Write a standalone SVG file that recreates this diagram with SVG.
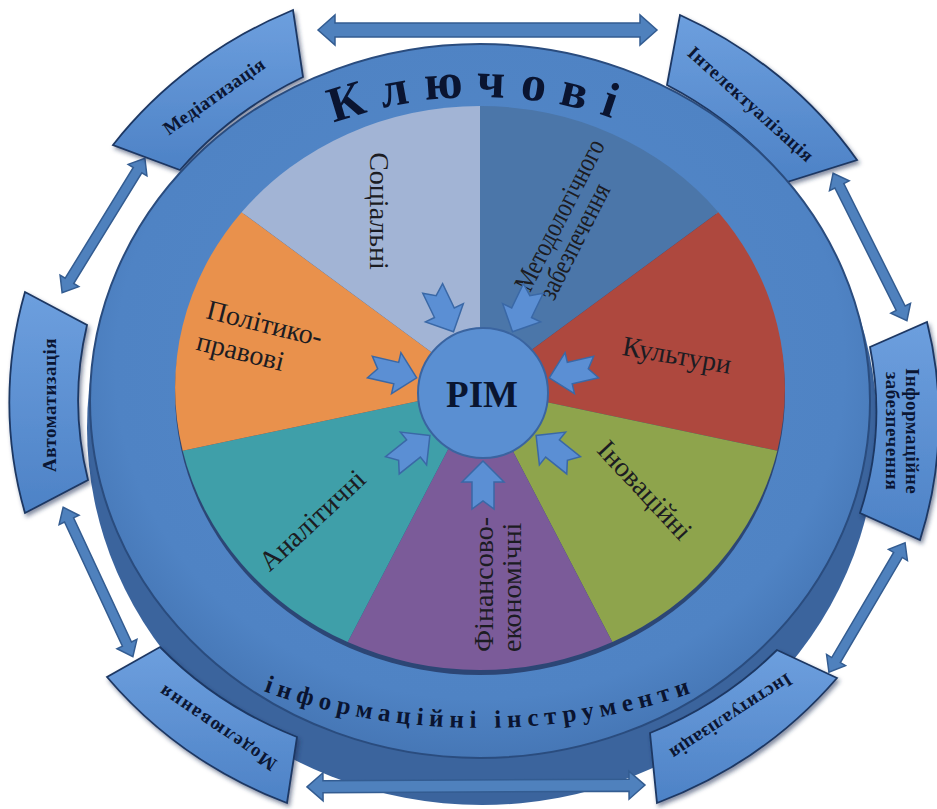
<svg xmlns="http://www.w3.org/2000/svg" width="937" height="809" viewBox="0 0 937 809">
<defs>
<style>
.box{fill:url(#boxG);stroke:#1d3763;stroke-width:1.8;filter:url(#sh)}
.btxt{font-family:"Liberation Serif","DejaVu Serif",serif;font-weight:bold;font-size:19px;fill:#0b1633;text-anchor:middle;letter-spacing:0.5px}
.conn{fill:#4f81bd;stroke:#335c91;stroke-width:1.5}
.inarr{fill:#5b8fd4;stroke:#3a68a6;stroke-width:1.5}
.lbl{font-family:"Liberation Serif","DejaVu Serif",serif;font-size:28px;fill:#1c1c22}
</style>
<linearGradient id="boxG" x1="0" y1="0" x2="0" y2="1">
<stop offset="0" stop-color="#6d9fde"/>
<stop offset="1" stop-color="#4d82c6"/>
</linearGradient>
<radialGradient id="diskG" cx="0.5" cy="0.45" r="0.55">
<stop offset="0" stop-color="#5489c9"/>
<stop offset="0.85" stop-color="#4f83c4"/>
<stop offset="1" stop-color="#4677b6"/>
</radialGradient>
<filter id="sh" x="-20%" y="-20%" width="140%" height="140%">
<feDropShadow dx="2" dy="3" stdDeviation="2" flood-color="#1a2f55" flood-opacity="0.55"/>
</filter>
<path id="topArc" d="M120,401 A360,304 0 0 1 840,401"/>
<path id="botArc" d="M10,401 A470,327 0 0 0 950,401"/>
<polygon id="inArrow" points="0,0 -21,-21 -21,-11 -48,-11 -40,0 -48,11 -21,11 -21,21"/>
</defs>
<rect width="937" height="809" fill="#ffffff"/>

<ellipse id="diskSide" cx="482" cy="428" rx="395" ry="377" fill="#3b649d"/>

<g id="connectors">
<polygon class="conn" transform="translate(487.5,30)" points="-169.5,0 -152.5,-15 -152.5,-7 152.5,-7 152.5,-15 169.5,0 152.5,15 152.5,7 -152.5,7 -152.5,15"/>
<polygon class="conn" transform="translate(476,786) rotate(-0.3)" points="-169,0 -153,-14 -153,-6 153,-6 153,-14 169,0 153,14 153,6 -153,6 -153,14"/>
<polygon class="conn" transform="translate(103.5,225.5) rotate(-58.4)" points="-79,0 -65,-11 -65,-5 65,-5 65,-11 79,0 65,11 65,5 -65,5 -65,11"/>
<polygon class="conn" transform="translate(98,582) rotate(65)" points="-82.5,0 -68.5,-11 -68.5,-5 68.5,-5 68.5,-11 82.5,0 68.5,11 68.5,5 -68.5,5 -68.5,11"/>
<polygon class="conn" transform="translate(870,247) rotate(63.4)" points="-82.5,0 -68.5,-11 -68.5,-5 68.5,-5 68.5,-11 82.5,0 68.5,11 68.5,5 -68.5,5 -68.5,11"/>
<polygon class="conn" transform="translate(867,607.5) rotate(120.5)" points="-75,0 -61,-11 -61,-5 61,-5 61,-11 75,0 61,11 61,5 -61,5 -61,11"/>
</g>

<g id="box-mediatyzatsiia">
<path class="box" d="M293,10 A445,420 0 0 0 113,145 L180,170 A390,357 0 0 1 303,77 Z"/>
<text class="btxt" transform="translate(214,96) rotate(-35)" dominant-baseline="central">Медіатизація</text>
</g>
<g id="box-intelektualizatsiia">
<path class="box" d="M680,15 A445,420 0 0 1 857,160 L787,182 A390,357 0 0 0 667,85 Z"/>
<text class="btxt" transform="translate(751,104) rotate(42)" dominant-baseline="central">Інтелектуалізація</text>
</g>
<g id="box-informatsiine">
<path class="box" d="M927,322 A445,420 0 0 1 920,540 L860,513 A390,357 0 0 0 870,347 Z"/>
<text class="btxt" transform="translate(902,431) rotate(90)"><tspan x="0" y="-4">Інформаційне</tspan><tspan x="0" y="16">забезпечення</tspan></text>
</g>
<g id="box-instytualizatsiia">
<path class="box" d="M837,678 A445,420 0 0 1 657,803 L650,733 A390,357 0 0 0 777,650 Z"/>
<text class="btxt" transform="translate(731,717) rotate(147)" dominant-baseline="central">Інституалізація</text>
</g>
<g id="box-modeliuvannia">
<path class="box" d="M287,803 A445,420 0 0 1 107,677 L160,647 A390,357 0 0 0 297,737 Z"/>
<text class="btxt" transform="translate(217,728) rotate(214)" dominant-baseline="central" style="letter-spacing:1.5px">Моделювання</text>
</g>
<g id="box-avtomatyzatsiia">
<path class="box" d="M25,513 A445,420 0 0 1 25,292 L87,325 A390,357 0 0 0 88,480 Z"/>
<text class="btxt" transform="translate(49,405) rotate(-90)" dominant-baseline="central">Автоматизація</text>
</g>

<g id="disk">
<ellipse cx="480" cy="401" rx="390" ry="357" fill="url(#diskG)" stroke="#2a4c7e" stroke-width="2"/>
</g>

<g id="pie">
<ellipse cx="480" cy="393" rx="305" ry="282" fill="#2c4675"/>
<path id="slice-metod" d="M480,388 L480,106 A305,282 0 0 1 718.4,212.2 Z" fill="#4b76a9"/>
<path id="slice-kult" d="M480,388 L718.4,212.2 A305,282 0 0 1 777.3,450.7 Z" fill="#ae483e"/>
<path id="slice-innov" d="M480,388 L777.3,450.7 A305,282 0 0 1 612.3,642.1 Z" fill="#8ea44c"/>
<path id="slice-fin" d="M480,388 L612.3,642.1 A305,282 0 0 1 347.7,642.1 Z" fill="#7b5b99"/>
<path id="slice-anal" d="M480,388 L347.7,642.1 A305,282 0 0 1 182.7,450.7 Z" fill="#3f9fa9"/>
<path id="slice-polit" d="M480,388 L182.7,450.7 A305,282 0 0 1 241.6,212.2 Z" fill="#e9914c"/>
<path id="slice-soc" d="M480,388 L241.6,212.2 A305,282 0 0 1 480,106 Z" fill="#a2b4d5"/>
</g>

<g id="ring-titles">
<text font-family="'Liberation Serif','DejaVu Serif',serif" font-weight="bold" font-size="50" fill="#0a1430" letter-spacing="15"><textPath href="#topArc" startOffset="50%" text-anchor="middle">Ключові</textPath></text>
<text font-family="'Liberation Serif','DejaVu Serif',serif" font-weight="bold" font-size="25" fill="#0a1430" letter-spacing="6"><textPath href="#botArc" startOffset="50%" text-anchor="middle">інформаційні інструменти</textPath></text>
</g>

<g id="labels">
<text class="lbl" transform="translate(370,211) rotate(90)" text-anchor="middle" font-size="30">Соціальні</text>
<text class="lbl" transform="translate(530,293) rotate(-63)" font-size="20" fill="#1b2a45"><tspan x="0" y="0" textLength="166" lengthAdjust="spacingAndGlyphs">Методологічного</tspan><tspan x="3" y="25" textLength="126" lengthAdjust="spacingAndGlyphs">забезпечення</tspan></text>
<text class="lbl" transform="translate(677,355) rotate(10)" text-anchor="middle" dominant-baseline="central">Культури</text>
<text class="lbl" transform="translate(645,490) rotate(47)" text-anchor="middle" dominant-baseline="central">Іноваційні</text>
<text class="lbl" transform="translate(493,652) rotate(-90)"><tspan x="0" y="0">Фінансово-</tspan><tspan x="0" y="28">економічні</tspan></text>
<text class="lbl" transform="translate(312,520) rotate(-43)" text-anchor="middle" dominant-baseline="central">Аналітичні</text>
<text class="lbl" transform="translate(205,318) rotate(14)"><tspan x="0" y="0">Політико-</tspan><tspan x="-2" y="33">правові</tspan></text>
</g>

<g id="inward-arrows">
<use href="#inArrow" class="inarr" transform="translate(453.5,331.7) rotate(64.3)"/>
<use href="#inArrow" class="inarr" transform="translate(512.5,331.7) rotate(115.7)"/>
<use href="#inArrow" class="inarr" transform="translate(549.3,377.8) rotate(167.1)"/>
<use href="#inArrow" class="inarr" transform="translate(536.1,435.4) rotate(218.6)"/>
<use href="#inArrow" class="inarr" transform="translate(483,461) rotate(270)"/>
<use href="#inArrow" class="inarr" transform="translate(429.9,435.4) rotate(321.4)"/>
<use href="#inArrow" class="inarr" transform="translate(416.7,377.8) rotate(12.9)"/>
</g>

<g id="node-pim">
<circle cx="483" cy="393" r="65" fill="#5a8fd2" stroke="#3a64a0" stroke-width="2"/>
<text x="482" y="407" text-anchor="middle" font-family="'Liberation Serif','DejaVu Serif',serif" font-weight="bold" font-size="37" fill="#0a1530">РІМ</text>
</g>
</svg>
